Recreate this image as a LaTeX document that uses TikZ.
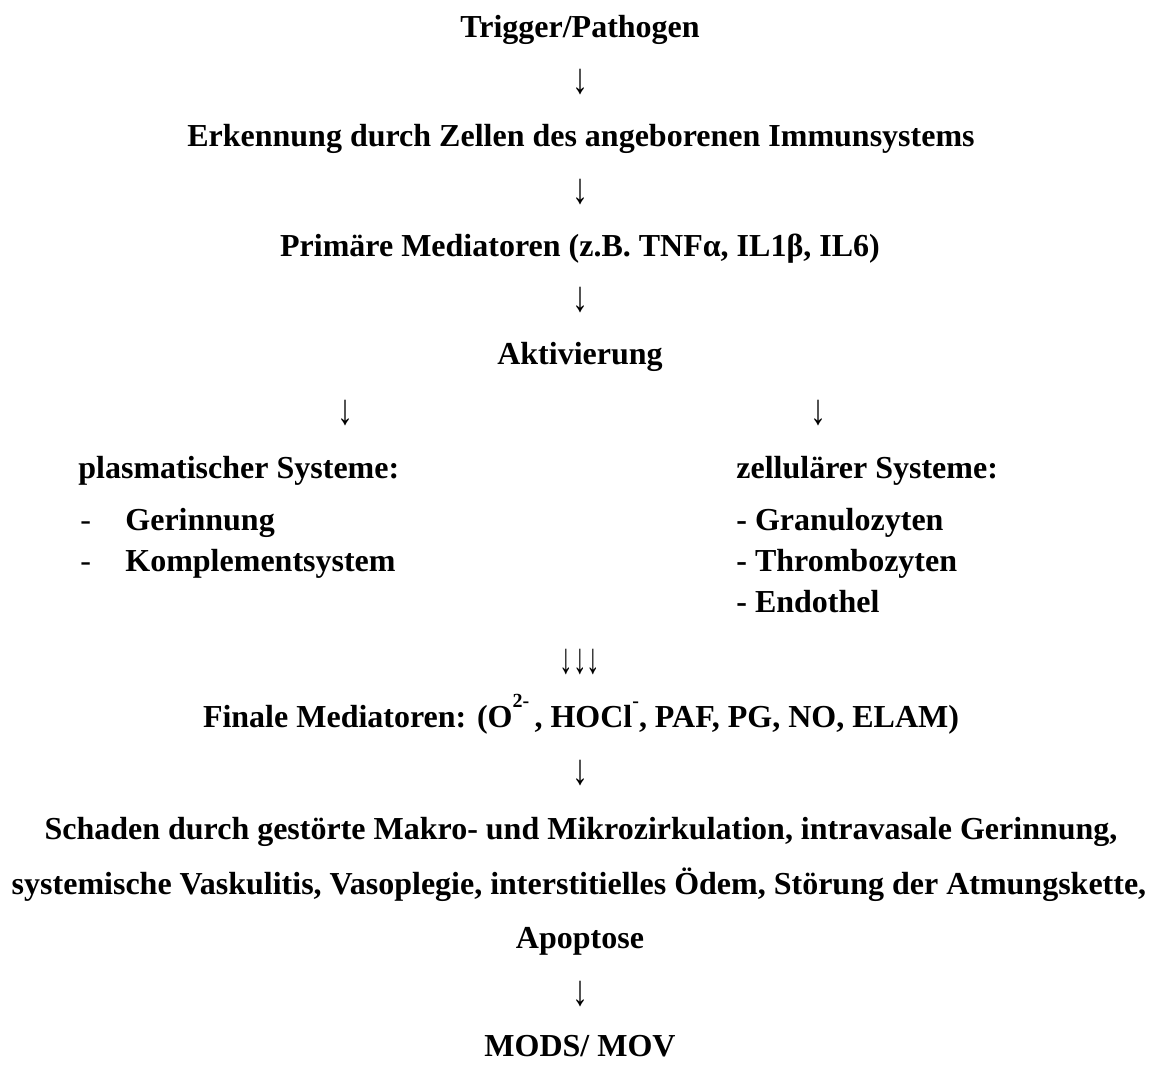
\documentclass[tikz,border=0pt]{standalone}
\usepackage{fontspec}
\setmainfont{Liberation Serif}
\usetikzlibrary{positioning}

\newcommand{\hochst}[1]{\raisebox{0.6em}{\fontsize{10}{10}\selectfont #1}}

\begin{document}
\begin{tikzpicture}[x=0.5pt,y=-0.5pt,
  txt/.style={font=\fontsize{16}{19}\selectfont\bfseries, inner sep=0, anchor=base},
  lft/.style={txt, anchor=base west},
  arr/.style={font=\fontsize{16}{19}\selectfont, inner sep=0}]
\useasboundingbox (0,0) rectangle (1158,1067);
% Kette oben
\node[txt] (trigger) at (580,37) {Trigger/Pathogen};
\node[arr] (a1) at (580,82) {\scalebox{1}[1.35]{↓}};
\node[txt] (erkennung) at (581,146) {Erkennung durch Zellen des angeborenen Immunsystems};
\node[arr] (a2) at (580,192) {\scalebox{1}[1.35]{↓}};
\node[txt] (primaer) at (580,256) {Primäre Mediatoren (z.B. TNFα, IL1β, IL6)};
\node[arr] (a3) at (580,300) {\scalebox{1}[1.35]{↓}};
\node[txt] (aktiv) at (580,364) {Aktivierung};
\node[arr] (a4l) at (345,413) {\scalebox{1}[1.35]{↓}};
\node[arr] (a4r) at (818,413) {\scalebox{1}[1.35]{↓}};
% zwei Spalten
\node[lft] (plasma) at (78,478) {plasmatischer Systeme:};
\node[lft] (zell) at (736,478) {zellulärer Systeme:};
\foreach \t [count=\i] in {Gerinnung,Komplementsystem} {
  \node[arr, anchor=base west] (pd\i) at (80,{489+41*\i}) {-};
  \node[lft] (p\i) at (125,{489+41*\i}) {\t};
}
\foreach \t [count=\i] in {Granulozyten,Thrombozyten,Endothel} {
  \node[lft] (z\i) at (736,{489+41*\i}) {- \t};
}
\node[arr] (a5) at (580,662) {\scalebox{0.85}[1.35]{↓↓↓}};
\node[txt] (finale) at (581,727) {Finale Mediatoren: (O\hochst{2-}\,, HOCl\hochst{-}, PAF, PG, NO, ELAM)};
\node[arr] (a6) at (580,773) {\scalebox{1}[1.35]{↓}};
\node[txt] (schaden1) at (581,839) {Schaden durch gestörte Makro- und Mikrozirkulation, intravasale Gerinnung,};
\node[txt] (schaden2) at (579,894) {systemische Vaskulitis, Vasoplegie, interstitielles Ödem, Störung der Atmungskette,};
\node[txt] (schaden3) at (580,948) {Apoptose};
\node[arr] (a7) at (580,994) {\scalebox{1}[1.35]{↓}};
\node[txt] (mods) at (580,1056) {MODS/ MOV};
\end{tikzpicture}
\end{document}
